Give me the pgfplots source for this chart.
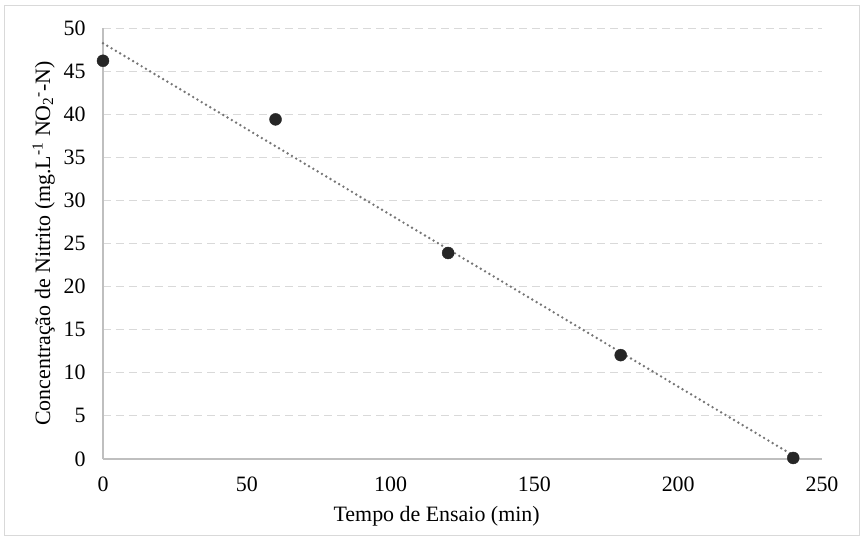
\documentclass[border=0pt]{standalone}
\usepackage{fontspec}
\setmainfont{Liberation Serif}
\usepackage{pgfplots}
\pgfplotsset{compat=1.18}
\definecolor{gridc}{HTML}{D9D9D9}
\definecolor{axc}{HTML}{BFBFBF}
\definecolor{markc}{HTML}{262626}
\definecolor{trendc}{HTML}{767676}
\begin{document}
\begin{tikzpicture}
\path[use as bounding box] (-103bp,-77bp) rectangle (757bp,459bp);
\draw[gridc, line width=1bp] (-98bp,-76bp) rectangle (756bp,453bp);
\begin{axis}[
  at={(0,0)}, anchor=south west,
  scale only axis, width=719bp, height=431bp,
  xmin=0, xmax=250, ymin=0, ymax=50,
  xtick={0,50,...,250}, ytick={0,5,...,50},
  axis x line=bottom, axis y line=left,
  axis line style={axc, line width=1.3bp, -},
  major tick length=0pt,
  ymajorgrids,
  grid style={gridc, line width=1bp, dash pattern=on 8bp off 5bp},
  font=\fontsize{22}{26}\selectfont,
  /pgf/number format/assume math mode=true,
  xticklabel style={yshift=-14bp, text=black},
  yticklabel style={xshift=-14bp, text=black},
  xlabel={Tempo de Ensaio (min)},
  xlabel style={at={(axis description cs:0.464,0)}, anchor=base, yshift=-62bp},
  ylabel={Concentração de Nitrito (mg.L\textsuperscript{-1} NO\textsubscript{2}\textsuperscript{-}-N)},
  ylabel style={at={(axis description cs:-0.0737,0.5)}, anchor=base},
  clip=false,
]
\addplot[trendc, line width=2.7bp, dash pattern=on 0bp off 5bp, line cap=round]
  coordinates {(0,48.24) (240,0.42)};
\addplot[only marks, mark=*, mark size=6bp, mark options={fill=markc, draw=markc}]
  coordinates {(0,46.2) (60,39.4) (120,23.9) (180,12.05) (240,0.12)};
\end{axis}
\end{tikzpicture}
\end{document}
